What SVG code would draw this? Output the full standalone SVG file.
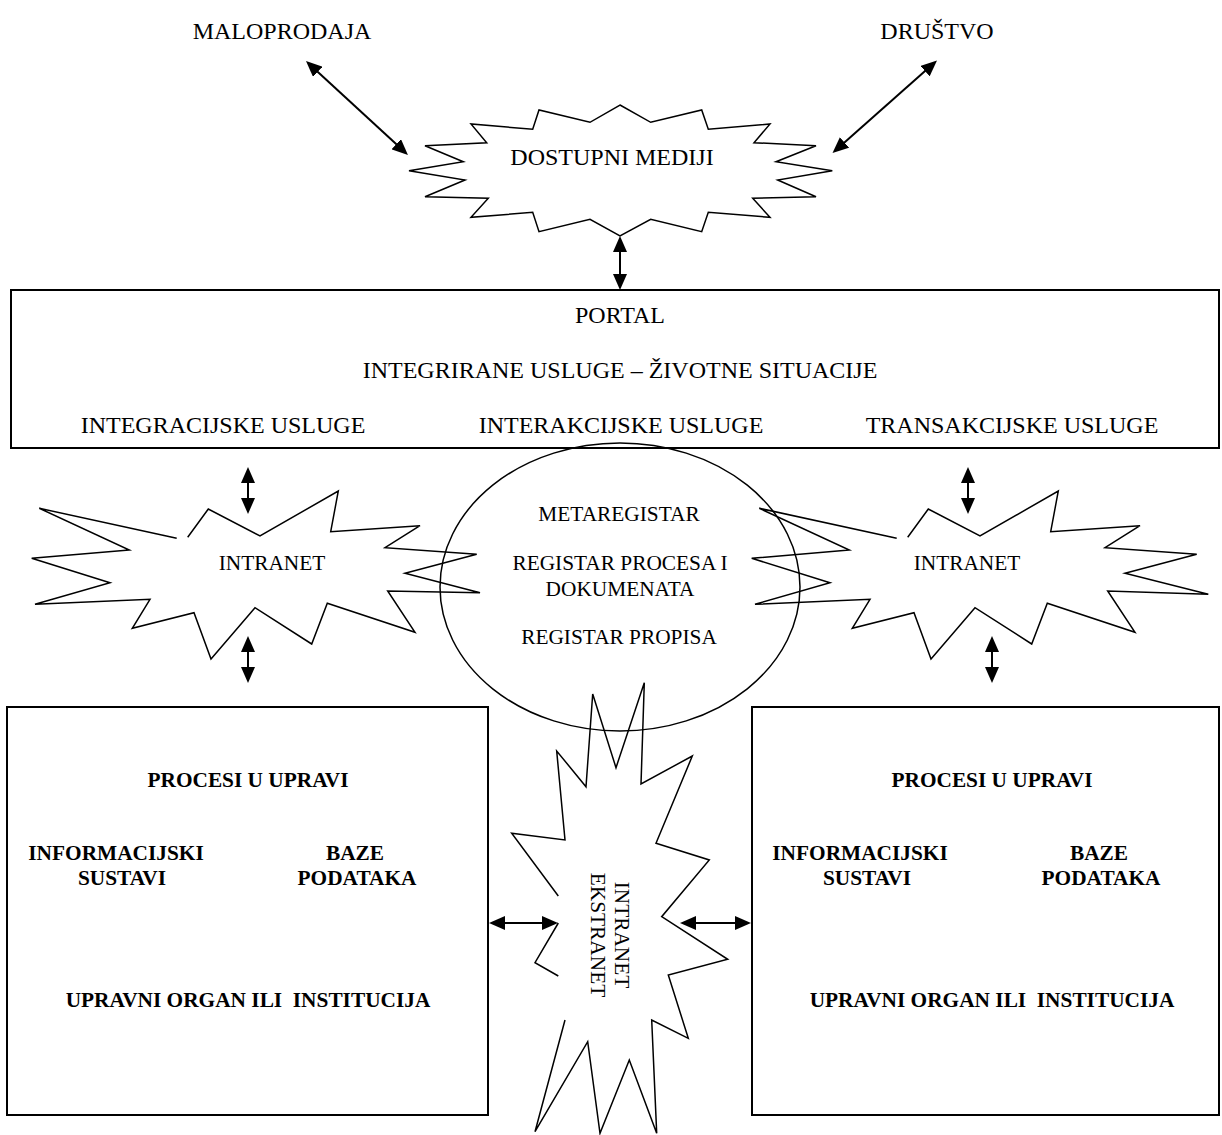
<svg xmlns="http://www.w3.org/2000/svg" width="1222" height="1135" viewBox="0 0 1222 1135">
<style>
  .bg { fill: #ffffff; }
  .shape { fill: none; stroke: #000; stroke-width: 1.5; stroke-linejoin: miter; }
  .box { fill: none; stroke: #000; stroke-width: 2; }
  .conn { fill: none; stroke: #000; stroke-width: 2; marker-start: url(#ah); marker-end: url(#ah); }
  .t24 { font-family: "Liberation Serif", "Times New Roman", serif; font-size: 24px; fill: #000; text-anchor: middle; }
  .t21 { font-family: "Liberation Serif", "Times New Roman", serif; font-size: 21.33px; fill: #000; text-anchor: middle; }
  .b21 { font-family: "Liberation Serif", "Times New Roman", serif; font-size: 21.33px; font-weight: bold; fill: #000; text-anchor: middle; white-space: pre; }
</style>
<defs>
  <marker id="ah" markerUnits="userSpaceOnUse" markerWidth="16" markerHeight="14" refX="8" refY="7" orient="auto-start-reverse" viewBox="0 0 16 14">
    <path d="M0,0 L16,7 L0,14 Z" fill="#000"/>
  </marker>
</defs>
<rect class="bg" x="0" y="0" width="1222" height="1135"/>

<g id="maloprodaja">
  <text class="t24" x="282" y="39">MALOPRODAJA</text>
</g>
<g id="drustvo">
  <text class="t24" x="937" y="39">DRUŠTVO</text>
</g>

<g id="dostupni-mediji">
  <path class="shape" d="M620,105 L650.7,122.3 L701.7,110 L708.3,129.3 L770,124 L754,142.7 L816,145.7 L776,161.7 L832.3,170.7 L777.7,180 L816,196.7 L752.7,198.3 L770,217.3 L708.3,212.3 L701.7,231.7 L650.7,219.3 L620,236 L590,219.3 L539,231.7 L532.7,212.3 L471,217.3 L488.3,198.3 L425,196.7 L465,180 L409,170.7 L463.3,161.7 L425,145.7 L486.7,142.7 L471,124 L532.7,129.3 L539,110 L590,122.3 Z"/>
  <text class="t24" x="612" y="165">DOSTUPNI MEDIJI</text>
</g>

<g id="portal">
  <rect class="box" x="11" y="290" width="1208" height="158"/>
  <text class="t24" x="620" y="323">PORTAL</text>
  <text class="t24" x="620" y="378">INTEGRIRANE USLUGE – ŽIVOTNE SITUACIJE</text>
  <text class="t24" x="223" y="433">INTEGRACIJSKE USLUGE</text>
  <text class="t24" x="621" y="433">INTERAKCIJSKE USLUGE</text>
  <text class="t24" x="1012" y="433">TRANSAKCIJSKE USLUGE</text>
</g>

<g id="registri">
  <ellipse class="shape" cx="620" cy="587" rx="180" ry="144"/>
  <text class="t21" x="619" y="521">METAREGISTAR</text>
  <text class="t21" x="620" y="570">REGISTAR PROCESA I</text>
  <text class="t21" x="620" y="596">DOKUMENATA</text>
  <text class="t21" x="619" y="644">REGISTAR PROPISA</text>
</g>

<g id="intranet-lijevo">
  <path class="shape" d="M187.7,537.3 L208.3,509 L260,536 L338.3,491 L330.7,531.7 L420,525.7 L385,547.7 L476.7,554.3 L405,573.3 L480,592.7 L387.7,591 L415,632.3 L327.3,603.3 L311.7,644 L255,607.7 L211,659 L194,612.7 L132.3,628.3 L150,599.3 L35,604.3 L110,582.7 L31.7,558.3 L129.3,550 L39.3,508.3 L176.7,538.3"/>
  <text class="t21" x="272" y="570">INTRANET</text>
</g>

<g id="intranet-desno">
  <path class="shape" d="M907.7,537.3 L928.3,509 L980,536 L1058.3,491 L1050.7,531.7 L1140,525.7 L1105,547.7 L1196.7,554.3 L1125,573.3 L1208.3,594.3 L1107.7,591 L1135,632.3 L1047.3,603.3 L1031.7,644 L975,607.7 L931,659 L914,612.7 L852.3,628.3 L870,599.3 L755,604.3 L830,582.7 L751.7,558.3 L849.3,550 L759.3,508.3 L896.7,538.3"/>
  <text class="t21" x="967" y="570">INTRANET</text>
</g>

<g id="intranet-ekstranet">
  <path class="shape" d="M558.3,923 L535,962.7 L558.3,976 M565,1020 L535,1131.7 L587.7,1041.7 L600,1133.3 L629.3,1060 L656.7,1133.3 L651.7,1020 L688.3,1038.3 L668.3,975 L727.7,959.3 L661.7,916.7 L709.3,860 L656,843.3 L692.3,756 L641,784 L644.3,682.7 L616,767.7 L592.7,694 L586,786.7 L556.7,751 L565,840 L511.7,833.3 L558.3,896"/>
  <text class="t21" transform="translate(615,935) rotate(90)" x="0" y="0">INTRANET</text>
  <text class="t21" transform="translate(591,935) rotate(90)" x="0" y="0">EKSTRANET</text>
</g>

<g id="organ-lijevo">
  <rect class="box" x="7" y="707" width="481" height="408"/>
  <text class="b21" x="248" y="787">PROCESI U UPRAVI</text>
  <text class="b21" x="116" y="860">INFORMACIJSKI</text>
  <text class="b21" x="122" y="885">SUSTAVI</text>
  <text class="b21" x="355" y="860">BAZE</text>
  <text class="b21" x="357" y="885">PODATAKA</text>
  <text class="b21" x="248" y="1007">UPRAVNI ORGAN ILI  INSTITUCIJA</text>
</g>

<g id="organ-desno">
  <rect class="box" x="752" y="707" width="467" height="408"/>
  <text class="b21" x="992" y="787">PROCESI U UPRAVI</text>
  <text class="b21" x="860" y="860">INFORMACIJSKI</text>
  <text class="b21" x="867" y="885">SUSTAVI</text>
  <text class="b21" x="1099" y="860">BAZE</text>
  <text class="b21" x="1101" y="885">PODATAKA</text>
  <text class="b21" x="992" y="1007">UPRAVNI ORGAN ILI  INSTITUCIJA</text>
</g>

<g id="connectors">
  <line class="conn" x1="311.9" y1="66.4" x2="402.1" y2="149.6"/>
  <line class="conn" x1="931" y1="65.8" x2="838.5" y2="147.7"/>
  <line class="conn" x1="620" y1="244" x2="620" y2="282"/>
  <line class="conn" x1="248" y1="475" x2="248" y2="506"/>
  <line class="conn" x1="248" y1="644" x2="248" y2="675"/>
  <line class="conn" x1="968" y1="475" x2="968" y2="506"/>
  <line class="conn" x1="992" y1="644" x2="992" y2="675"/>
  <line class="conn" x1="497" y1="923" x2="550" y2="923"/>
  <line class="conn" x1="688" y1="923" x2="743" y2="923"/>
</g>
</svg>
